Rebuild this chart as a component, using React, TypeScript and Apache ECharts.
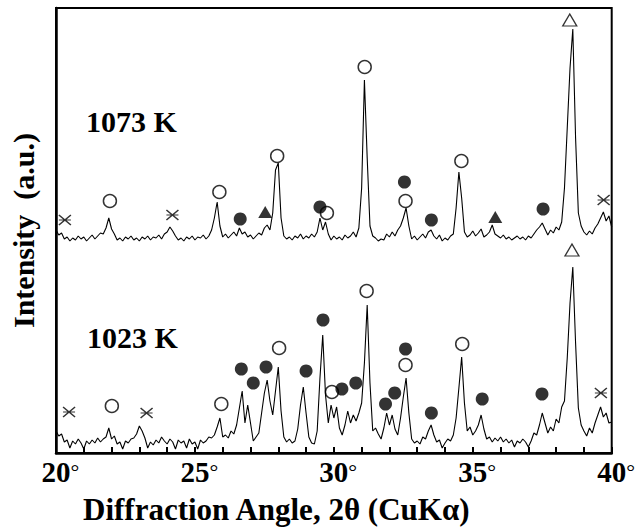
import React, { useEffect, useRef } from "react";
import * as echarts from "echarts";

const FONT = '"Liberation Serif", "Times New Roman", serif';

// 2θ sampling of the traces
const START = 20;
const STEP = 0.1;
// vertical offset of the 1073 K pattern above the 1023 K pattern
const OFFSET_1073 = 205;

// Intensity (a.u.) of the 1023 K pattern, 20.0° … 40.0° every 0.1°
const I_1023 = [
  22, 17, 19, 11, 13, 5, 12, 9, 14, 10,
  4, 12, 9, 13, 10, 15, 11, 14, 16, 25,
  14, 17, 9, 11, 4, 12, 10, 14, 15, 19,
  27, 22, 15, 5, 11, 8, 13, 10, 16, 12,
  9, 14, 11, 4, 13, 10, 12, 5, 14, 9,
  11, 4, 13, 10, 12, 16, 15, 18, 26, 35,
  16, 18, 15, 22, 19, 28, 45, 62, 30, 48,
  30, 12, 16, 20, 40, 60, 73, 52, 38, 62,
  86, 42, 16, 11, 14, 10, 12, 24, 48, 66,
  40, 16, 10, 9, 22, 75, 118, 58, 30, 48,
  35, 46, 25, 18, 28, 42, 30, 38, 32, 40,
  50, 90, 148, 70, 22, 25, 19, 14, 25, 40,
  28, 38, 24, 18, 35, 56, 75, 40, 14, 10,
  12, 9, 16, 14, 22, 28, 18, 11, 13, 5,
  10, 14, 12, 18, 35, 65, 96, 50, 22, 26,
  18, 22, 28, 38, 24, 14, 16, 11, 15, 12,
  16, 11, 14, 10, 13, 6, 12, 10, 14, 11,
  6, 12, 20, 18, 28, 40, 30, 20, 26, 22,
  34, 30, 46, 52, 95, 150, 186, 110, 45, 28,
  22, 17, 25, 20, 30, 38, 46, 36, 40, 30,
  31,
];

// Intensity (a.u.) of the 1073 K pattern, 20.0° … 40.0° every 0.1°
const I_1073 = [
  18, 13, 15, 9, 11, 7, 10, 8, 12, 9,
  11, 7, 10, 13, 9, 12, 15, 14, 20, 30,
  19, 14, 8, 10, 7, 11, 9, 12, 8, 10,
  7, 11, 9, 12, 8, 11, 10, 13, 9, 14,
  16, 21, 17, 12, 8, 10, 7, 11, 9, 12,
  8, 11, 10, 13, 9, 12, 18, 30, 46, 22,
  11, 14, 10, 13, 16, 12, 20, 14, 16, 11,
  13, 9, 12, 15, 13, 20, 23, 18, 35, 78,
  85, 30, 12, 9, 11, 8, 12, 10, 14, 9,
  12, 10, 14, 11, 16, 30, 18, 26, 14, 8,
  12, 9, 11, 8, 13, 10, 12, 16, 11, 20,
  60, 168, 90, 22, 12, 10, 7, 9, 8, 14,
  11, 16, 12, 18, 22, 30, 40, 22, 9, 12,
  8, 11, 14, 10, 16, 18, 12, 9, 13, 7,
  10, 8, 12, 14, 40, 76, 50, 16, 11, 13,
  17, 12, 15, 19, 11, 13, 16, 23, 14, 12,
  10, 13, 9, 11, 8, 10, 12, 9, 11, 8,
  12, 10, 14, 18, 21, 25, 19, 13, 18, 15,
  21, 18, 26, 60, 120, 180, 219, 110, 35, 22,
  16, 13, 17, 14, 20, 24, 30, 36, 27, 32,
  21,
];

// Phase markers [2θ, intensity] – 1023 K pattern
const OPEN_CIRCLE_1023 = [[22.01, 47], [25.95, 49], [28.03, 105], [29.93, 61], [31.18, 162], [32.58, 88], [34.62, 109]];
const FILLED_CIRCLE_1023 = [[26.67, 84], [27.1, 70], [27.56, 86], [29.0, 82], [29.61, 133], [30.29, 64], [30.79, 70], [31.86, 49], [32.19, 60], [32.58, 104], [33.51, 40], [35.34, 54], [37.49, 59]];
const OPEN_TRIANGLE_1023 = [[38.57, 203]];
const CROSS_1023 = [[20.47, 41], [23.26, 40], [39.61, 60]];

// Phase markers [2θ, intensity] – 1073 K pattern (before offset)
const OPEN_CIRCLE_1073 = [[21.94, 47], [25.88, 56], [27.96, 92], [29.75, 35], [31.11, 181], [32.58, 47], [34.59, 87]];
const FILLED_CIRCLE_1073 = [[26.63, 29], [29.5, 41], [32.54, 66], [33.51, 28], [37.53, 39]];
const FILLED_TRIANGLE_1073 = [[27.53, 36], [35.81, 31]];
const OPEN_TRIANGLE_1073 = [[38.49, 228]];
const CROSS_1073 = [[20.32, 28], [24.19, 33], [39.71, 48]];

const LABEL_1073 = "1073 K";
const LABEL_1023 = "1023 K";

const toLine = (arr: number[], off: number) =>
  arr.map((v, i) => [+(START + i * STEP).toFixed(2), v + off]);
const shift = (arr: number[][], off: number) => arr.map(([x, y]) => [x, y + off]);

const CROSS_PATH = "path://M0,0L12,10M0,10L12,0M0,5L12,5";

export default function App() {
  const ref = useRef<HTMLDivElement>(null);

  useEffect(() => {
    if (!ref.current) return;
    const chart = echarts.init(ref.current, null, { renderer: "svg" });
    const black = "#000";
    const option: any = {
      animation: false,
      backgroundColor: "#fff",
      grid: {
        left: 56,
        right: 24,
        top: 8,
        bottom: 75,
        show: true,
        borderColor: black,
        borderWidth: 2,
      },
      title: {
        text: "Diffraction Angle, 2θ (CuKα)",
        left: 83,
        top: 494,
        padding: 0,
        textStyle: { fontFamily: FONT, fontSize: 31, fontWeight: "bold", color: black },
      },
      xAxis: {
        type: "value",
        min: 20,
        max: 40,
        interval: 5,
        axisLine: { lineStyle: { color: black, width: 2.5 } },
        axisTick: { inside: true, length: 6, lineStyle: { color: black, width: 2 } },
        minorTick: { show: true, splitNumber: 5, length: 6, lineStyle: { color: black, width: 2 } },
        splitLine: { show: false },
        axisLabel: {
          margin: 4,
          formatter: (v: number) => `{h|°}{n|${v}}{d|°}`,
          rich: {
            h: { fontFamily: FONT, fontSize: 22, color: "transparent" },
            n: { fontFamily: FONT, fontSize: 29, fontWeight: "bold", color: black },
            d: { fontFamily: FONT, fontSize: 22, color: black },
          },
        },
      },
      yAxis: {
        type: "value",
        min: 0,
        max: 445,
        axisLine: { show: true, lineStyle: { color: black, width: 2.5 } },
        axisTick: { show: false },
        axisLabel: { show: false },
        splitLine: { show: false },
        name: "Intensity  (a.u.)",
        nameLocation: "middle",
        nameRotate: 90,
        nameGap: 18,
        nameTextStyle: { fontFamily: FONT, fontSize: 30, fontWeight: "bold", color: black },
      },
      graphic: [
        {
          type: "text",
          left: 86,
          top: 106,
          style: { text: LABEL_1073, font: `bold 30px ${FONT}`, fill: black },
        },
        {
          type: "text",
          left: 87,
          top: 322,
          style: { text: LABEL_1023, font: `bold 30px ${FONT}`, fill: black },
        },
      ],
      series: [
        {
          type: "line",
          data: toLine(I_1023, 0),
          showSymbol: false,
          silent: true,
          lineStyle: { color: black, width: 1.1 },
        },
        {
          type: "line",
          data: toLine(I_1073, OFFSET_1073),
          showSymbol: false,
          silent: true,
          lineStyle: { color: black, width: 1.1 },
        },
        {
          type: "scatter",
          symbol: "circle",
          symbolSize: 13,
          data: [...OPEN_CIRCLE_1023, ...shift(OPEN_CIRCLE_1073, OFFSET_1073)],
          itemStyle: { color: "#fff", borderColor: black, borderWidth: 1.5 },
        },
        {
          type: "scatter",
          symbol: "circle",
          symbolSize: 13,
          data: [...FILLED_CIRCLE_1023, ...shift(FILLED_CIRCLE_1073, OFFSET_1073)],
          itemStyle: { color: black },
        },
        {
          type: "scatter",
          symbol: "triangle",
          symbolSize: [14, 12],
          data: shift(FILLED_TRIANGLE_1073, OFFSET_1073),
          itemStyle: { color: black },
        },
        {
          type: "scatter",
          symbol: "triangle",
          symbolSize: [14, 12],
          data: [...OPEN_TRIANGLE_1023, ...shift(OPEN_TRIANGLE_1073, OFFSET_1073)],
          itemStyle: { color: "#fff", borderColor: black, borderWidth: 1.3 },
        },
        {
          type: "scatter",
          symbol: CROSS_PATH,
          symbolSize: [12, 10],
          data: [...CROSS_1023, ...shift(CROSS_1073, OFFSET_1073)],
          itemStyle: { color: "none", borderColor: black, borderWidth: 1.3 },
        },
      ],
    };
    chart.setOption(option);
    return () => chart.dispose();
  }, []);

  return (
    <div
      ref={ref}
      style={{ position: "fixed", left: 0, top: 0, width: 638, height: 528, background: "#fff" }}
    />
  );
}
